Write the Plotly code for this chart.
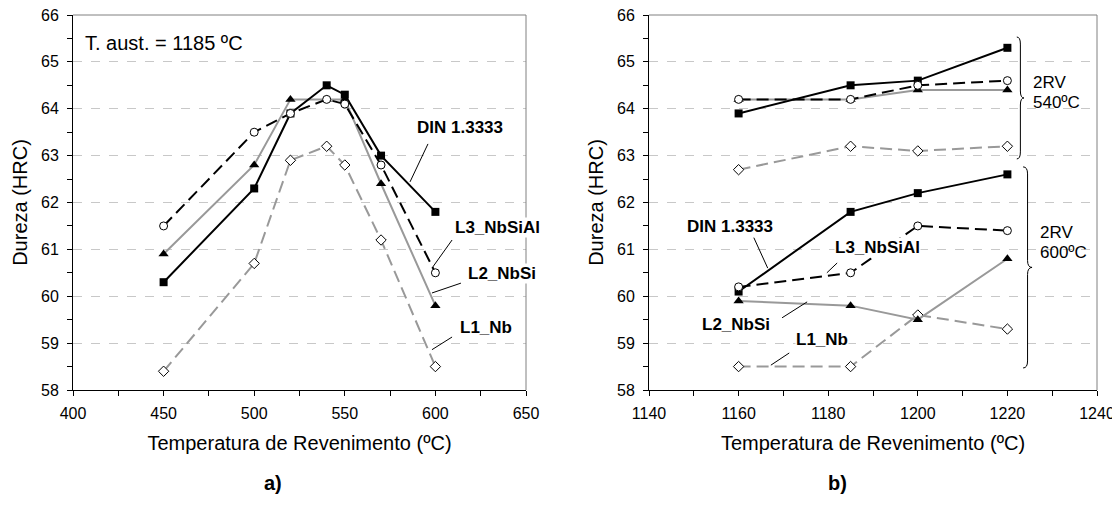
import plotly.graph_objects as go

# a) T. aust. = 1185 ºC, dureza vs temperatura de revenimento
temp_rev = [450, 500, 520, 540, 550, 570, 600]
din_a = [60.3, 62.3, 63.9, 64.5, 64.3, 63.0, 61.8]
l3_a = [61.5, 63.5, 63.9, 64.2, 64.1, 62.8, 60.5]
l2_a = [60.9, 62.8, 64.2, 64.2, 64.2, 62.4, 59.8]
l1_a = [58.4, 60.7, 62.9, 63.2, 62.8, 61.2, 58.5]

# b) 2RV 540ºC / 2RV 600ºC
temp_aust = [1160, 1185, 1200, 1220]
din_540 = [63.9, 64.5, 64.6, 65.3]
l3_540 = [64.2, 64.2, 64.5, 64.6]
l2_540 = [64.2, 64.2, 64.4, 64.4]
l1_540 = [62.7, 63.2, 63.1, 63.2]
din_600 = [60.1, 61.8, 62.2, 62.6]
l3_600 = [60.2, 60.5, 61.5, 61.4]
l2_600 = [59.9, 59.8, 59.5, 60.8]
l1_600 = [58.5, 58.5, 59.6, 59.3]

FONT = "Arial, Liberation Sans, sans-serif"
GRAY = "#999999"
OFF = 8  # margen del body de la página
W, H = 1120 - OFF, 511 - 2 * OFF


def px(x):
    return (x - OFF) / W


def py(y):
    return 1 - (y - OFF) / H


STYLES = {
    "L1_Nb": dict(
        line=dict(color=GRAY, width=2, dash="12px,6px"),
        marker=dict(symbol="diamond", size=8, color="white",
                    line=dict(color="black", width=1))),
    "L2_NbSi": dict(
        line=dict(color=GRAY, width=2),
        marker=dict(symbol="triangle-up", size=9, color="black")),
    "DIN 1.3333": dict(
        line=dict(color="black", width=2),
        marker=dict(symbol="square", size=8, color="black")),
    "L3_NbSiAl": dict(
        line=dict(color="black", width=2, dash="12px,6px"),
        marker=dict(symbol="circle", size=8, color="white",
                    line=dict(color="black", width=1))),
}


def add_series(fig, x, y, name, xa, ya):
    fig.add_trace(go.Scatter(x=x, y=y, name=name, mode="lines+markers",
                             xaxis=xa, yaxis=ya, showlegend=False,
                             **STYLES[name]))


def add_label(fig, text, xr, yr, tx, ty, x0, y0, x1, y1):
    """Etiqueta en negrita con línea guía"""
    fig.add_shape(type="line", xref=xr, yref=yr, x0=x0, y0=y0, x1=x1, y1=y1,
                  line=dict(color="black", width=1))
    fig.add_annotation(x=tx, y=ty, xref=xr, yref=yr, text=f"<b>{text}</b>",
                       showarrow=False, bgcolor="white", borderpad=0,
                       font=dict(size=17, family=FONT, color="black"))


def brace_path(x0, ytop, ybot, w, d):
    ymid = (ytop + ybot) / 2
    xm = x0 + w / 2
    return (f"M {x0},{ytop} Q {xm},{ytop} {xm},{ytop - d} "
            f"L {xm},{ymid + d} Q {xm},{ymid} {x0 + w},{ymid} "
            f"Q {xm},{ymid} {xm},{ymid - d} "
            f"L {xm},{ybot + d} Q {xm},{ybot} {x0},{ybot}")


fig = go.Figure()

# panel a)
add_series(fig, temp_rev, l1_a, "L1_Nb", "x", "y")
add_series(fig, temp_rev, l2_a, "L2_NbSi", "x", "y")
add_series(fig, temp_rev, din_a, "DIN 1.3333", "x", "y")
add_series(fig, temp_rev, l3_a, "L3_NbSiAl", "x", "y")

# panel b)
for grp in [(l1_540, din_540, l2_540, l3_540), (l1_600, din_600, l2_600, l3_600)]:
    add_series(fig, temp_aust, grp[0], "L1_Nb", "x2", "y2")
    add_series(fig, temp_aust, grp[2], "L2_NbSi", "x2", "y2")
    add_series(fig, temp_aust, grp[1], "DIN 1.3333", "x2", "y2")
    add_series(fig, temp_aust, grp[3], "L3_NbSiAl", "x2", "y2")

y_dom = [py(390), py(15)]
axis_common = dict(
    ticks="outside", ticklen=5, tickcolor="black", tickwidth=1,
    showline=True, linecolor="black", linewidth=1, zeroline=False,
    automargin=False, ticklabeloverflow="allow",
    tickfont=dict(size=16, family=FONT, color="black"),
)
x_title = dict(text="Temperatura de Revenimento (ºC)", standoff=14,
               font=dict(size=20, family=FONT, color="black"))
y_title = dict(text="Dureza (HRC)", standoff=8,
               font=dict(size=20, family=FONT, color="black"))

fig.update_layout(
    width=W, height=H,
    margin=dict(l=0, r=0, t=0, b=0),
    paper_bgcolor="white", plot_bgcolor="white",
    font=dict(family=FONT, color="black"),
    xaxis=dict(domain=[px(73), px(526)], range=[400, 650], dtick=50,
               tick0=400, showgrid=False, title=x_title,
               minor=dict(dtick=25, ticks="outside", ticklen=5, tickcolor="black"),
               ticklabelstandoff=4, **axis_common),
    yaxis=dict(domain=y_dom, range=[58, 66], dtick=1, showgrid=True,
               gridcolor="#c8c8c8", griddash="dash", title=y_title,
               minor=dict(dtick=0.5, ticks="outside", ticklen=5, tickcolor="black"),
               ticklabelstandoff=5, **axis_common),
    xaxis2=dict(domain=[px(649), px(1097)], range=[1140, 1240], dtick=20,
                tick0=1140, showgrid=False, anchor="y2", title=x_title,
                minor=dict(dtick=10, ticks="outside", ticklen=5, tickcolor="black"),
                ticklabelstandoff=4, **axis_common),
    yaxis2=dict(domain=y_dom, range=[58, 66], dtick=1, showgrid=True,
                gridcolor="#c8c8c8", griddash="dash", anchor="x2", title=y_title,
                minor=dict(dtick=0.5, ticks="outside", ticklen=5, tickcolor="black"),
                ticklabelstandoff=5, **axis_common),
)

# marco gris superior y derecho
for xr, yr in [("x domain", "y domain"), ("x2 domain", "y2 domain")]:
    fig.add_shape(type="line", xref=xr, yref=yr, x0=0, y0=1, x1=1, y1=1,
                  line=dict(color="#808080", width=1))
    fig.add_shape(type="line", xref=xr, yref=yr, x0=1, y0=0, x1=1, y1=1,
                  line=dict(color="#808080", width=1))

fig.add_annotation(x=405.5, y=65.4, xref="x", yref="y", xanchor="left",
                   text="T. aust. = 1185 ºC", showarrow=False,
                   font=dict(size=20, family=FONT, color="black"))

add_label(fig, "DIN 1.3333", "x", "y", 613.6, 63.59, 595.9, 63.25, 586.0, 62.44)
add_label(fig, "L3_NbSiAl", "x", "y", 634.0, 61.46, 609.2, 61.20, 598.1, 60.60)
add_label(fig, "L2_NbSi", "x", "y", 636.8, 60.49, 614.1, 60.28, 598.1, 60.07)
add_label(fig, "L1_Nb", "x", "y", 627.9, 59.34, 609.2, 59.13, 598.1, 58.86)

add_label(fig, "DIN 1.3333", "x2", "y2", 1158.1, 61.48, 1163.4, 61.25, 1166.5, 60.60)
add_label(fig, "L3_NbSiAl", "x2", "y2", 1191.1, 61.05, 1182.0, 60.71, 1179.7, 60.50)
add_label(fig, "L2_NbSi", "x2", "y2", 1159.4, 59.39, 1169.7, 59.54, 1175.3, 59.88)
add_label(fig, "L1_Nb", "x2", "y2", 1178.6, 59.07, 1171.3, 58.79, 1167.2, 58.53)

# llaves 2RV
fig.add_shape(type="path", xref="x2", yref="y2",
              path=brace_path(1222.1, 65.53, 62.93, 1.6, 0.15),
              line=dict(color="black", width=1))
fig.add_shape(type="path", xref="x2", yref="y2",
              path=brace_path(1223.5, 62.76, 58.47, 2.0, 0.15),
              line=dict(color="black", width=1))
for ytxt, lines, x0 in [(64.55, "2RV", 1225.3), (64.13, "540ºC", 1225.3),
                        (61.35, "2RV", 1226.8), (60.93, "600ºC", 1226.8)]:
    fig.add_annotation(x=x0, y=ytxt, xref="x2", yref="y2", xanchor="left",
                       text=lines, showarrow=False,
                       font=dict(size=17, family=FONT, color="black"))

fig.add_annotation(x=px(262), y=py(496), xref="paper", yref="paper",
                   text="<b>a)</b>", showarrow=False,
                   font=dict(size=20, family=FONT, color="black"))
fig.add_annotation(x=px(849), y=py(496), xref="paper", yref="paper",
                   text="<b>b)</b>", showarrow=False,
                   font=dict(size=20, family=FONT, color="black"))

fig.write_html("out.html")
